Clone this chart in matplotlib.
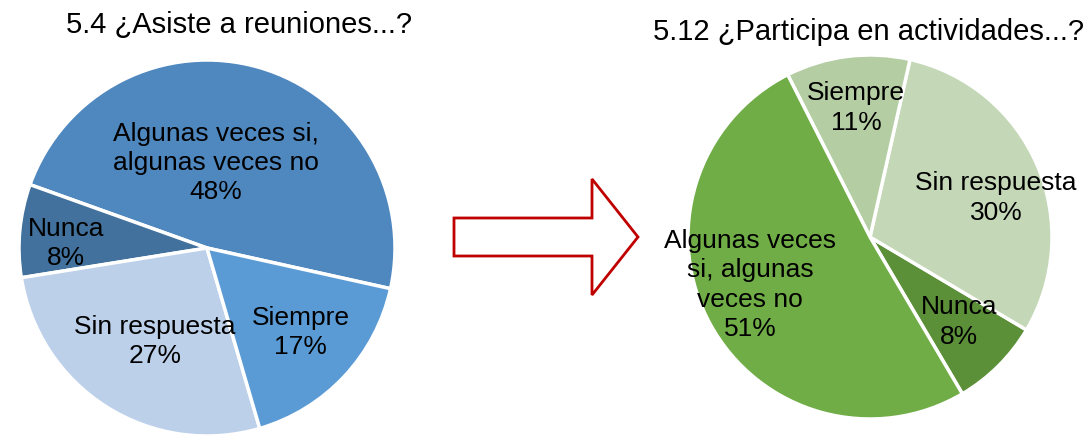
"""
Two pie charts (5.4 and 5.12) joined by a hollow red arrow.
"""

import matplotlib
matplotlib.use('Agg')
import numpy as np
import matplotlib.pyplot as plt
from matplotlib.patches import Polygon

plt.rcParams['font.family'] = ['Liberation Sans', 'DejaVu Sans']

# data
left_title = '5.4 ¿Asiste a reuniones...?'
left_labels = ['Algunas veces si,\nalgunas veces no', 'Nunca', 'Sin respuesta', 'Siempre']
left_values = [48, 8, 27, 17]

right_title = '5.12 ¿Participa en actividades...?'
right_labels = ['Nunca', 'Sin respuesta', 'Siempre', 'Algunas veces\nsi, algunas\nveces no']
right_values = [8, 30, 11, 51]

# styles
left_colors = ['#4F87BF', '#41719C', '#BDD0EA', '#5B9BD5']
right_colors = ['#5B8F38', '#C4D8B8', '#B4CDA3', '#70AD47']
# label placement as (radius fraction, angle in degrees)
left_label_pos = [(0.455, 84), (0.75, 178), (0.57, 241), (0.67, 318)]
right_label_pos = [(0.676, -43.7), (0.725, 17.2), (0.713, 96.2), (0.71, 201.8)]

W, H = 1088, 436
fig = plt.figure(figsize=(W / 100, H / 100), dpi=100)


def px_axes(cx, cy, r):
    # square axes around a pie centre given in pixels (y from top)
    return fig.add_axes([(cx - r) / W, (H - cy - r) / H, 2 * r / W, 2 * r / H])


def draw_pie(ax, values, labels, colors, label_pos, start):
    wedges, _ = ax.pie(values, colors=colors, startangle=start, counterclock=True,
                       radius=1.0, wedgeprops=dict(edgecolor='white', linewidth=2.5))
    for w in wedges:
        w.set_clip_on(False)
    for v, lab, (rf, ang) in zip(values, labels, label_pos):
        a = np.deg2rad(ang)
        ax.text(rf * np.cos(a), rf * np.sin(a), f'{lab}\n{v}%', ha='center', va='center',
                fontsize=19, color='black', linespacing=1.27)
    ax.set_xlim(-1, 1)
    ax.set_ylim(-1, 1)
    ax.set_aspect('equal')
    ax.axis('off')


ax1 = px_axes(207, 248, 188)
draw_pie(ax1, left_values, left_labels, left_colors, left_label_pos, -12.5)

ax2 = px_axes(870, 237, 182)
draw_pie(ax2, right_values, right_labels, right_colors, right_label_pos, -59.5)

fig.text(239 / W, 1 - 25 / H, left_title, ha='center', va='center', fontsize=21)
fig.text(869 / W, 1 - 32 / H, right_title, ha='center', va='center', fontsize=21)

# hollow arrow
arrow_px = [(454, 218), (592, 218), (592, 179), (638, 237), (592, 295), (592, 256), (454, 256)]
arrow = Polygon([(x / W, 1 - y / H) for x, y in arrow_px], closed=True,
                facecolor='white', edgecolor='#C00000', linewidth=2,
                transform=fig.transFigure)
fig.add_artist(arrow)

fig.savefig('out.png', dpi=100)
